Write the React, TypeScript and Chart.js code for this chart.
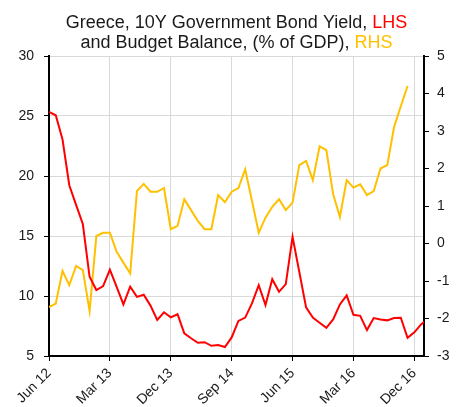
import React, { useEffect, useRef } from 'react';
import { Chart, registerables } from 'chart.js';

Chart.register(...registerables);

// Monthly observations starting Jun 2012; axis labels every 9 months.
const tickLabels = ['Jun 12', 'Mar 13', 'Dec 13', 'Sep 14', 'Jun 15', 'Mar 16', 'Dec 16'];
const monthsPerTick = 9;
const lastMonth = 55.43;

// Greece 10Y government bond yield, % (left axis)
const bondYield = [
  25.34, 25.06, 23.04, 19.23, 17.6, 16.0, 11.6, 10.5, 10.82, 12.2,
  10.77, 9.3, 10.77, 9.93, 10.1, 9.2, 8.0, 8.64, 8.22, 8.48,
  6.88, 6.48, 6.1, 6.15, 5.85, 5.91, 5.75, 6.55, 7.92, 8.2,
  9.38, 10.9, 9.24, 11.4, 10.35, 10.99, 14.93, 12.0, 9.05, 8.2,
  7.77, 7.35, 8.05, 9.3, 10.05, 8.43, 8.35, 7.16, 8.16, 8.05,
  7.97, 8.16, 8.19, 6.52, 6.97, 7.63, 8.1,
];

// Budget balance, % of GDP (right axis)
const budgetBalance = [
  -1.7, -1.6, -0.73, -1.11, -0.6, -0.71, -1.8, 0.2, 0.285, 0.285,
  -0.22, -0.51, -0.8, 1.4, 1.59, 1.38, 1.38, 1.48, 0.38, 0.47,
  1.18, 0.89, 0.6, 0.38, 0.38, 1.29, 1.1, 1.38, 1.48, 1.98,
  1.14, 0.285, 0.69, 0.98, 1.18, 0.89, 1.09, 2.09, 2.2, 1.69,
  2.59, 2.49, 1.31, 0.71, 1.69, 1.49, 1.58, 1.29, 1.4, 2.0,
  2.09, 3.1, 3.66, 4.2,
];

const FONT = '"Liberation Sans", Arial, Helvetica, sans-serif';
const TEXT = '#1a1a1a';
const GRID = '#d9d9d9';
const RED = '#ff0000';
const GOLD = '#ffc000';

const titleLines: [string, string][][] = [
  [['Greece, 10Y Government Bond Yield, ', TEXT], ['LHS', RED]],
  [['and Budget Balance, (% of GDP), ', TEXT], ['RHS', GOLD]],
];

// Two-line title with coloured axis hints, centred over the plot area.
const twoToneTitle = {
  id: 'twoToneTitle',
  afterDraw(chart: any) {
    const { ctx, chartArea } = chart;
    ctx.save();
    ctx.font = `18px ${FONT}`;
    ctx.textAlign = 'left';
    ctx.textBaseline = 'alphabetic';
    const cx = (chartArea.left + chartArea.right) / 2;
    titleLines.forEach((parts, i) => {
      const total = parts.reduce((s, [t]) => s + ctx.measureText(t).width, 0);
      let x = cx - total / 2;
      const y = 20 + i * 20;
      parts.forEach(([t, c]) => {
        ctx.fillStyle = c;
        ctx.fillText(t, x, y);
        x += ctx.measureText(t).width;
      });
    });
    ctx.restore();
  },
};

export default function App() {
  const ref = useRef<HTMLCanvasElement>(null);

  useEffect(() => {
    if (!ref.current) return;
    const chart = new Chart(ref.current, {
      type: 'line',
      data: {
        datasets: [
          {
            label: 'Bond yield',
            data: bondYield.map((v, i) => ({ x: i, y: v })),
            borderColor: RED,
            borderWidth: 2,
            pointRadius: 0,
            tension: 0,
            yAxisID: 'y',
          },
          {
            label: 'Budget balance',
            data: budgetBalance.map((v, i) => ({ x: i, y: v })),
            borderColor: GOLD,
            borderWidth: 2,
            pointRadius: 0,
            tension: 0,
            yAxisID: 'y1',
          },
        ],
      },
      options: {
        responsive: false,
        animation: false,
        layout: { padding: { top: 48, left: 0, right: 0, bottom: 0 } },
        plugins: {
          legend: { display: false },
          tooltip: { enabled: false },
          title: { display: false },
        },
        scales: {
          x: {
            type: 'linear',
            min: 0,
            max: lastMonth,
            afterBuildTicks: (s: any) => {
              s.ticks = tickLabels.map((_, i) => ({ value: i * monthsPerTick }));
            },
            afterFit: (s: any) => {
              s.height = 51;
            },
            ticks: {
              autoSkip: false,
              maxRotation: 45,
              minRotation: 45,
              padding: 4,
              color: TEXT,
              font: { family: FONT, size: 14 },
              callback: (_v: any, i: number) => tickLabels[i],
            },
            grid: {
              color: (c: any) => (c.tick && c.tick.value === 0 ? 'rgba(0,0,0,0)' : GRID),
              tickColor: '#000',
              tickLength: 5,
              lineWidth: 1,
            },
            border: { color: '#000', width: 2 },
          },
          y: {
            position: 'left',
            min: 5,
            max: 30,
            afterFit: (s: any) => {
              s.width = 41;
            },
            ticks: {
              stepSize: 5,
              padding: 10,
              color: TEXT,
              font: { family: FONT, size: 14 },
            },
            grid: {
              color: (c: any) => (c.tick && c.tick.value === 5 ? 'rgba(0,0,0,0)' : GRID),
              tickColor: '#000',
              tickLength: 5,
              lineWidth: 1,
            },
            border: { color: '#000', width: 2 },
          },
          y1: {
            position: 'right',
            min: -3,
            max: 5,
            afterFit: (s: any) => {
              s.width = 28;
            },
            ticks: {
              stepSize: 1,
              padding: 8,
              color: TEXT,
              font: { family: FONT, size: 14 },
            },
            grid: {
              drawOnChartArea: false,
              tickColor: '#000',
              tickLength: 5,
            },
            border: { color: '#000', width: 2 },
          },
        },
      },
      plugins: [twoToneTitle],
    });
    return () => chart.destroy();
  }, []);

  return <canvas ref={ref} width={444} height={399} style={{ display: 'block' }} />;
}
